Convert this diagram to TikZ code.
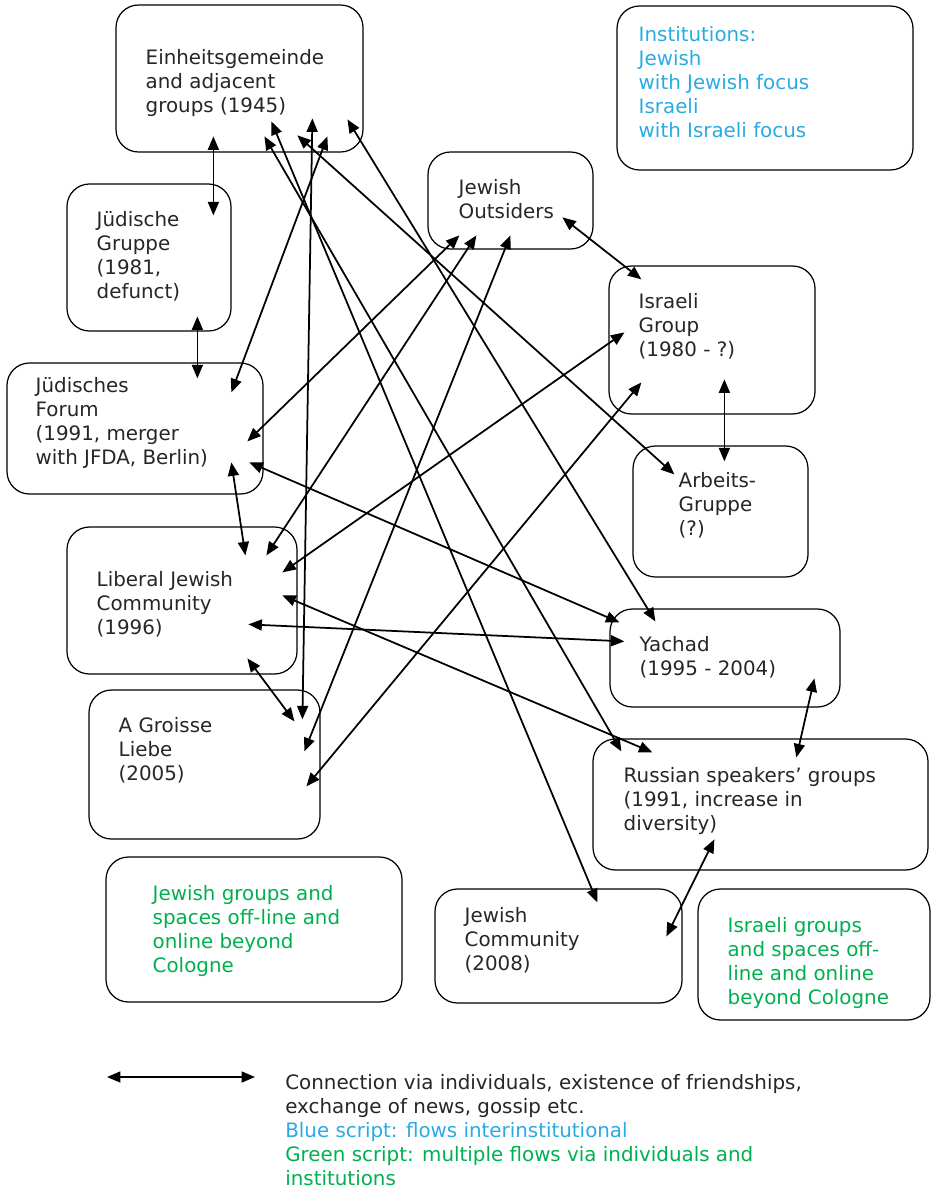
\documentclass[tikz,border=0pt]{standalone}
\usepackage{fontspec}
\setmainfont{DejaVu Sans}
\usepackage{tikz}
\usetikzlibrary{positioning}
\usetikzlibrary{arrows.meta, fit}
\usetikzlibrary{calc}
\definecolor{instblue}{RGB}{41,171,226}
\definecolor{multigreen}{RGB}{0,176,80}
\tikzstyle{link} = [line width=1pt,<->,>={Triangle[length=2.7mm,width=2.2mm]}]

\begin{document}
\begin{tikzpicture}[
			x = 0.02cm, y = -0.02cm,  % one unit = one pixel, y grows downwards
			every node/.style = {font = \fontsize{11.3}{13.6}\selectfont, text = black!85},
			grp/.style = {draw, rounded corners = 0.45cm, line width = 0.7pt, inner sep = 0pt},
			txt/.style = {anchor = north west, align = left, inner sep = 0pt}
		]
			\useasboundingbox (0,0) rectangle (931,1190);

			% Boxes
			\node[grp, fit = {(116,5) (363,152)}] (Einheit) {};
			\node[grp, fit = {(617,6) (913,170)}] (Institutions) {};
			\node[grp, fit = {(67,184) (231,331)}] (JGruppe) {};
			\node[grp, fit = {(428,152) (593,249)}] (Outsiders) {};
			\node[grp, fit = {(609,266) (815,414)}] (IsrGroup) {};
			\node[grp, fit = {(7,363) (263,494)}] (JForum) {};
			\node[grp, fit = {(633,446) (808,577)}] (Arbeit) {};
			\node[grp, fit = {(67,527) (297,674)}] (Liberal) {};
			\node[grp, fit = {(610,609) (840,707)}] (Yachad) {};
			\node[grp, fit = {(89,690) (320,839)}] (Groisse) {};
			\node[grp, fit = {(593,739) (928,870)}] (Russian) {};
			\node[grp, fit = {(106,857) (402,1002)}] (JGroups) {};
			\node[grp, fit = {(435,889) (682,1003)}] (JComm) {};
			\node[grp, fit = {(698,889) (930,1020)}] (IsrGroups) {};

			% Texts
			\node[txt] (EinheitTxt) at ([shift={(30,45)}]Einheit.north west) {Einheitsgemeinde\\and adjacent\\groups (1945)};
			\node[txt, text = instblue] (InstitutionsTxt) at ([shift={(22,21)}]Institutions.north west) {Institutions:\\Jewish\\with Jewish focus\\Israeli\\with Israeli focus};
			\node[txt] (JGruppeTxt) at ([shift={(30,28)}]JGruppe.north west) {Jüdische\\Gruppe\\(1981,\\defunct)};
			\node[txt] (OutsidersTxt) at ([shift={(31,28)}]Outsiders.north west) {Jewish\\Outsiders};
			\node[txt] (IsrGroupTxt) at ([shift={(30,28)}]IsrGroup.north west) {Israeli\\Group\\(1980 - ?)};
			\node[txt] (JForumTxt) at ([shift={(29,15)}]JForum.north west) {Jüdisches\\Forum\\(1991, merger\\with JFDA, Berlin)};
			\node[txt] (ArbeitTxt) at ([shift={(46,27)}]Arbeit.north west) {Arbeits-\\Gruppe\\(?)};
			\node[txt] (LiberalTxt) at ([shift={(30,45)}]Liberal.north west) {Liberal Jewish\\Community\\(1996)};
			\node[txt] (YachadTxt) at ([shift={(30,28)}]Yachad.north west) {Yachad\\(1995 - 2004)};
			\node[txt] (GroisseTxt) at ([shift={(30,28)}]Groisse.north west) {A Groisse\\Liebe\\(2005)};
			\node[txt] (RussianTxt) at ([shift={(31,29)}]Russian.north west) {Russian speakers’ groups\\(1991, increase in\\diversity)};
			\node[txt, text = multigreen] (JGroupsTxt) at ([shift={(47,29)}]JGroups.north west) {Jewish groups and\\spaces off-line and\\online beyond\\Cologne};
			\node[txt] (JCommTxt) at ([shift={(30,19)}]JComm.north west) {Jewish\\Community\\(2008)};
			\node[txt, text = multigreen] (IsrGroupsTxt) at ([shift={(30,29)}]IsrGroups.north west) {Israeli groups\\and spaces off-\\line and online\\beyond Cologne};

			% Connections
			\draw[link] ([shift={(98,132)}]Einheit.north west) -- ([shift={(147,32)}]JGruppe.north west);
			\draw[link] ([shift={(197,114)}]Einheit.north west) -- ([shift={(214,30)}]Groisse.north west);
			\draw[link] ([shift={(212,132)}]Einheit.north west) -- ([shift={(225,30)}]JForum.north west);
			\draw[link] ([shift={(232,115)}]Einheit.north west) -- ([shift={(46,13)}]Yachad.north west);
			\draw[link] ([shift={(182,131)}]Einheit.north west) -- ([shift={(42,29)}]Arbeit.north west);
			\draw[link] ([shift={(149,132)}]Einheit.north west) -- ([shift={(29,13)}]Russian.north west);
			\draw[link] ([shift={(156,117)}]Einheit.north west) -- ([shift={(163,14)}]JComm.north west);
			\draw[link] ([shift={(131,133)}]JGruppe.north west) -- ([shift={(191,16)}]JForum.north west);
			\draw[link] ([shift={(32,84)}]Outsiders.north west) -- ([shift={(241,79)}]JForum.north west);
			\draw[link] ([shift={(49,84)}]Outsiders.north west) -- ([shift={(200,29)}]Liberal.north west);
			\draw[link] ([shift={(83,84)}]Outsiders.north west) -- ([shift={(216,62)}]Groisse.north west);
			\draw[link] ([shift={(135,66)}]Outsiders.north west) -- ([shift={(33,14)}]IsrGroup.north west);
			\draw[link] ([shift={(16,67)}]IsrGroup.north west) -- ([shift={(216,46)}]Liberal.north west);
			\draw[link] ([shift={(33,117)}]IsrGroup.north west) -- ([shift={(218,97)}]Groisse.north west);
			\draw[link] ([shift={(116,114)}]IsrGroup.north west) -- ([shift={(92,16)}]Arbeit.north west);
			\draw[link] ([shift={(225,100)}]JForum.north west) -- ([shift={(179,29)}]Liberal.north west);
			\draw[link] ([shift={(243,100)}]JForum.north west) -- ([shift={(10,14)}]Yachad.north west);
			\draw[link] ([shift={(182,98)}]Liberal.north west) -- ([shift={(15,33)}]Yachad.north west);
			\draw[link] ([shift={(216,69)}]Liberal.north west) -- ([shift={(60,14)}]Russian.north west);
			\draw[link] ([shift={(181,132)}]Liberal.north west) -- ([shift={(206,32)}]Groisse.north west);
			\draw[link] ([shift={(205,70)}]Yachad.north west) -- ([shift={(204,19)}]Russian.north west);
			\draw[link] ([shift={(122,101)}]Russian.north west) -- ([shift={(232,48)}]JComm.north west);

			% Key
			\coordinate (KeyL) at (107,1077);
			\coordinate (KeyR) at (255,1077);
			\draw[link] (KeyL) -- (KeyR);
			\node[txt] (Key) at (285,1074) {Connection via individuals, existence of friendships,\\exchange of news, gossip etc.\\\textcolor{instblue}{Blue script: flows interinstitutional}\\\textcolor{multigreen}{Green script: multiple flows via individuals and}\\\textcolor{multigreen}{institutions}};
\end{tikzpicture}
\end{document}
